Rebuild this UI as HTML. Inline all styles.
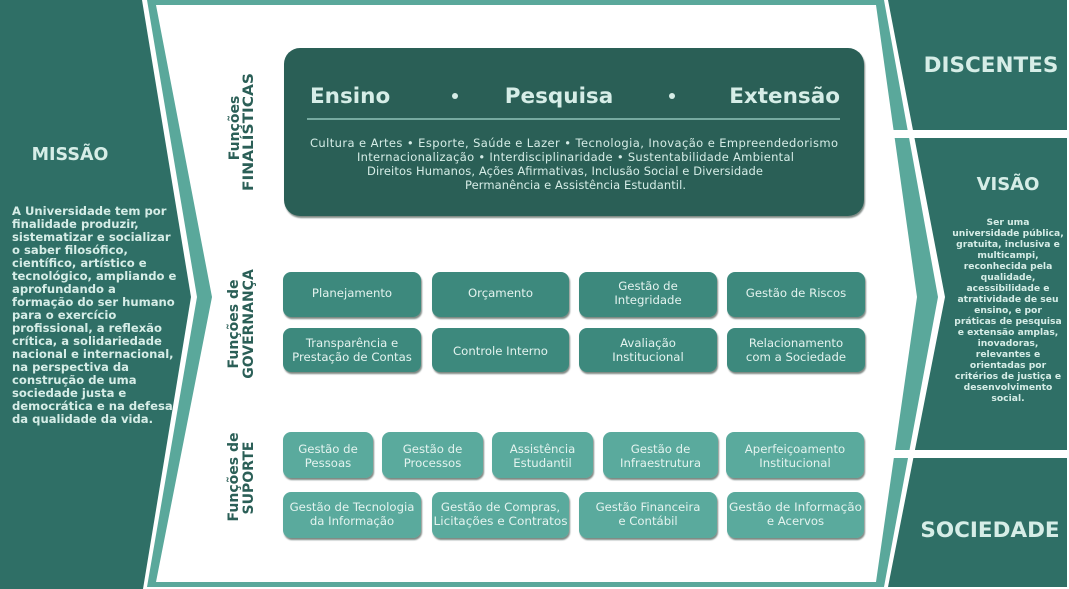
<!DOCTYPE html>
<html>
<head>
<meta charset="utf-8">
<style>
  html,body{margin:0;padding:0;background:#fff;overflow:hidden;}
  svg{display:block;}
  text{font-family:"DejaVu Sans","Liberation Sans",sans-serif;}
  .lt{fill:#d6ede7;}
  .bx{fill:#e4f3ef;font-size:11.7px;text-anchor:middle;}
  .vl{fill:#2b5f57;font-weight:bold;font-size:14px;text-anchor:middle;}
</style>
</head>
<body>
<svg width="1069" height="589" viewBox="0 0 1069 589" xmlns="http://www.w3.org/2000/svg">
  <defs>
    <filter id="sh" x="-5%" y="-10%" width="115%" height="130%">
      <feDropShadow dx="1" dy="2" stdDeviation="0.8" flood-color="#0d2622" flood-opacity="0.55"/>
    </filter>
  </defs>
  <rect width="1069" height="589" fill="#ffffff"/>

  <!-- Left dark panel -->
  <polygon points="0,0 142,0 191,297 143,589 0,589" fill="#2f6f66"/>

  <!-- Center teal frame -->
  <polygon points="147,0 884,0 938,297 884,587 147,587 197,297" fill="#5aa89b"/>
  <polygon points="156,5 876,5 917,297 876,582 156,582 212,297" fill="#ffffff"/>

  <!-- Right dark panels -->
  <polygon points="888,0 1067,0 1067,587 888,587 945,297" fill="#2f6f66"/>
  <rect x="880" y="130" width="189" height="8" fill="#ffffff"/>
  <rect x="880" y="450" width="189" height="8" fill="#ffffff"/>

  <!-- MISSÃO -->
  <text x="70" y="160" class="lt" font-size="17.5" font-weight="bold" text-anchor="middle">MISSÃO</text>
  <g class="lt" font-size="11.6" font-weight="bold">
    <text x="12" y="215">A Universidade tem por</text>
    <text x="12" y="228">finalidade produzir,</text>
    <text x="12" y="241">sistematizar e socializar</text>
    <text x="12" y="254">o saber filosófico,</text>
    <text x="12" y="267">científico, artístico e</text>
    <text x="12" y="280">tecnológico, ampliando e</text>
    <text x="12" y="293">aprofundando a</text>
    <text x="12" y="306">formação do ser humano</text>
    <text x="12" y="319">para o exercício</text>
    <text x="12" y="332">profissional, a reflexão</text>
    <text x="12" y="345">crítica, a solidariedade</text>
    <text x="12" y="358">nacional e internacional,</text>
    <text x="12" y="371">na perspectiva da</text>
    <text x="12" y="384">construção de uma</text>
    <text x="12" y="397">sociedade justa e</text>
    <text x="12" y="410">democrática e na defesa</text>
    <text x="12" y="423">da qualidade da vida.</text>
  </g>

  <!-- Right panel texts -->
  <text x="991" y="72" class="lt" font-size="21.5" font-weight="bold" text-anchor="middle">DISCENTES</text>
  <text x="1008" y="190" class="lt" font-size="18" font-weight="bold" text-anchor="middle">VISÃO</text>
  <g class="lt" font-size="9.2" font-weight="bold" text-anchor="middle">
    <text x="1008" y="225">Ser uma</text>
    <text x="1008" y="236">universidade pública,</text>
    <text x="1008" y="247">gratuita, inclusiva e</text>
    <text x="1008" y="258">multicampi,</text>
    <text x="1008" y="269">reconhecida pela</text>
    <text x="1008" y="280">qualidade,</text>
    <text x="1008" y="291">acessibilidade e</text>
    <text x="1008" y="302">atratividade de seu</text>
    <text x="1008" y="313">ensino, e por</text>
    <text x="1008" y="324">práticas de pesquisa</text>
    <text x="1008" y="335">e extensão amplas,</text>
    <text x="1008" y="346">inovadoras,</text>
    <text x="1008" y="357">relevantes e</text>
    <text x="1008" y="368">orientadas por</text>
    <text x="1008" y="379">critérios de justiça e</text>
    <text x="1008" y="390">desenvolvimento</text>
    <text x="1008" y="401">social.</text>
  </g>
  <text x="990" y="537" class="lt" font-size="21.5" font-weight="bold" text-anchor="middle">SOCIEDADE</text>

  <!-- Vertical labels -->
  <text class="vl" transform="translate(239,128) rotate(-90)">Funções</text>
  <text class="vl" transform="translate(253,132) rotate(-90)" textLength="118" lengthAdjust="spacingAndGlyphs">FINALÍSTICAS</text>
  <text class="vl" transform="translate(238,324) rotate(-90)">Funções de</text>
  <text class="vl" transform="translate(253,324) rotate(-90)">GOVERNANÇA</text>
  <text class="vl" transform="translate(238,477) rotate(-90)">Funções de</text>
  <text class="vl" transform="translate(253,478) rotate(-90)">SUPORTE</text>

  <!-- Top box -->
  <rect x="284" y="48" width="580" height="168" rx="16" ry="16" fill="#2b5f57" filter="url(#sh)"/>
  <g class="lt" font-size="21.5" font-weight="bold">
    <text x="310" y="103">Ensino</text>
    <text x="559" y="103" text-anchor="middle">Pesquisa</text>
    <text x="840" y="103" text-anchor="end">Extensão</text>
  </g>
  <circle cx="455" cy="96" r="3" fill="#d6ede7"/>
  <circle cx="672" cy="96" r="3" fill="#d6ede7"/>
  <line x1="307" y1="119" x2="840" y2="119" stroke="#8fc3b8" stroke-width="1.5"/>
  <g class="lt" font-size="11.5" xml:space="preserve">
    <text x="310" y="147" textLength="528" lengthAdjust="spacing">Cultura e Artes  •  Esporte, Saúde e Lazer  •  Tecnologia, Inovação e Empreendedorismo</text>
    <text x="357" y="161" textLength="437" lengthAdjust="spacing">Internacionalização • Interdisciplinaridade  • Sustentabilidade Ambiental</text>
    <text x="367" y="175" textLength="396" lengthAdjust="spacing">Direitos Humanos, Ações Afirmativas, Inclusão Social e Diversidade</text>
    <text x="465" y="189" textLength="221" lengthAdjust="spacing">Permanência e Assistência Estudantil.</text>
  </g>

  <!-- Governance boxes -->
  <g fill="#3d897d" filter="url(#sh)">
    <rect x="283" y="272" width="138" height="45" rx="8"/>
    <rect x="432" y="272" width="137" height="45" rx="8"/>
    <rect x="579" y="272" width="138" height="45" rx="8"/>
    <rect x="727" y="272" width="138" height="45" rx="8"/>
    <rect x="283" y="328" width="138" height="44" rx="8"/>
    <rect x="432" y="328" width="137" height="44" rx="8"/>
    <rect x="579" y="328" width="138" height="44" rx="8"/>
    <rect x="727" y="328" width="138" height="44" rx="8"/>
  </g>
  <g class="bx">
    <text x="352" y="297">Planejamento</text>
    <text x="500.5" y="297">Orçamento</text>
    <text x="648" y="290">Gestão de</text>
    <text x="648" y="304">Integridade</text>
    <text x="796" y="297">Gestão de Riscos</text>

    <text x="352" y="347">Transparência e</text>
    <text x="352" y="361">Prestação de Contas</text>
    <text x="500.5" y="355">Controle Interno</text>
    <text x="648" y="347">Avaliação</text>
    <text x="648" y="361">Institucional</text>
    <text x="796" y="347">Relacionamento</text>
    <text x="796" y="361">com a Sociedade</text>
  </g>

  <!-- Support boxes -->
  <g fill="#5aaa9d" filter="url(#sh)">
    <rect x="283" y="432" width="90" height="46" rx="8"/>
    <rect x="382" y="432" width="101" height="46" rx="8"/>
    <rect x="492" y="432" width="101" height="46" rx="8"/>
    <rect x="603" y="432" width="115" height="46" rx="8"/>
    <rect x="726" y="432" width="138" height="46" rx="8"/>
    <rect x="283" y="492" width="138" height="46" rx="8"/>
    <rect x="432" y="492" width="137" height="46" rx="8"/>
    <rect x="579" y="492" width="138" height="46" rx="8"/>
    <rect x="727" y="492" width="137" height="46" rx="8"/>
  </g>
  <g class="bx">
    <text x="328" y="453">Gestão de</text>
    <text x="328" y="467">Pessoas</text>
    <text x="432.5" y="453">Gestão de</text>
    <text x="432.5" y="467">Processos</text>
    <text x="542.5" y="453">Assistência</text>
    <text x="542.5" y="467">Estudantil</text>
    <text x="660.5" y="453">Gestão de</text>
    <text x="660.5" y="467">Infraestrutura</text>
    <text x="795" y="453">Aperfeiçoamento</text>
    <text x="795" y="467">Institucional</text>

    <text x="352" y="511">Gestão de Tecnologia</text>
    <text x="352" y="525">da Informação</text>
    <text x="500.5" y="511">Gestão de Compras,</text>
    <text x="500.5" y="525" textLength="134" lengthAdjust="spacingAndGlyphs">Licitações e Contratos</text>
    <text x="648" y="511">Gestão Financeira</text>
    <text x="648" y="525">e Contábil</text>
    <text x="795.5" y="511" textLength="133" lengthAdjust="spacingAndGlyphs">Gestão de Informação</text>
    <text x="795.5" y="525">e Acervos</text>
  </g>
</svg>
</body>
</html>
